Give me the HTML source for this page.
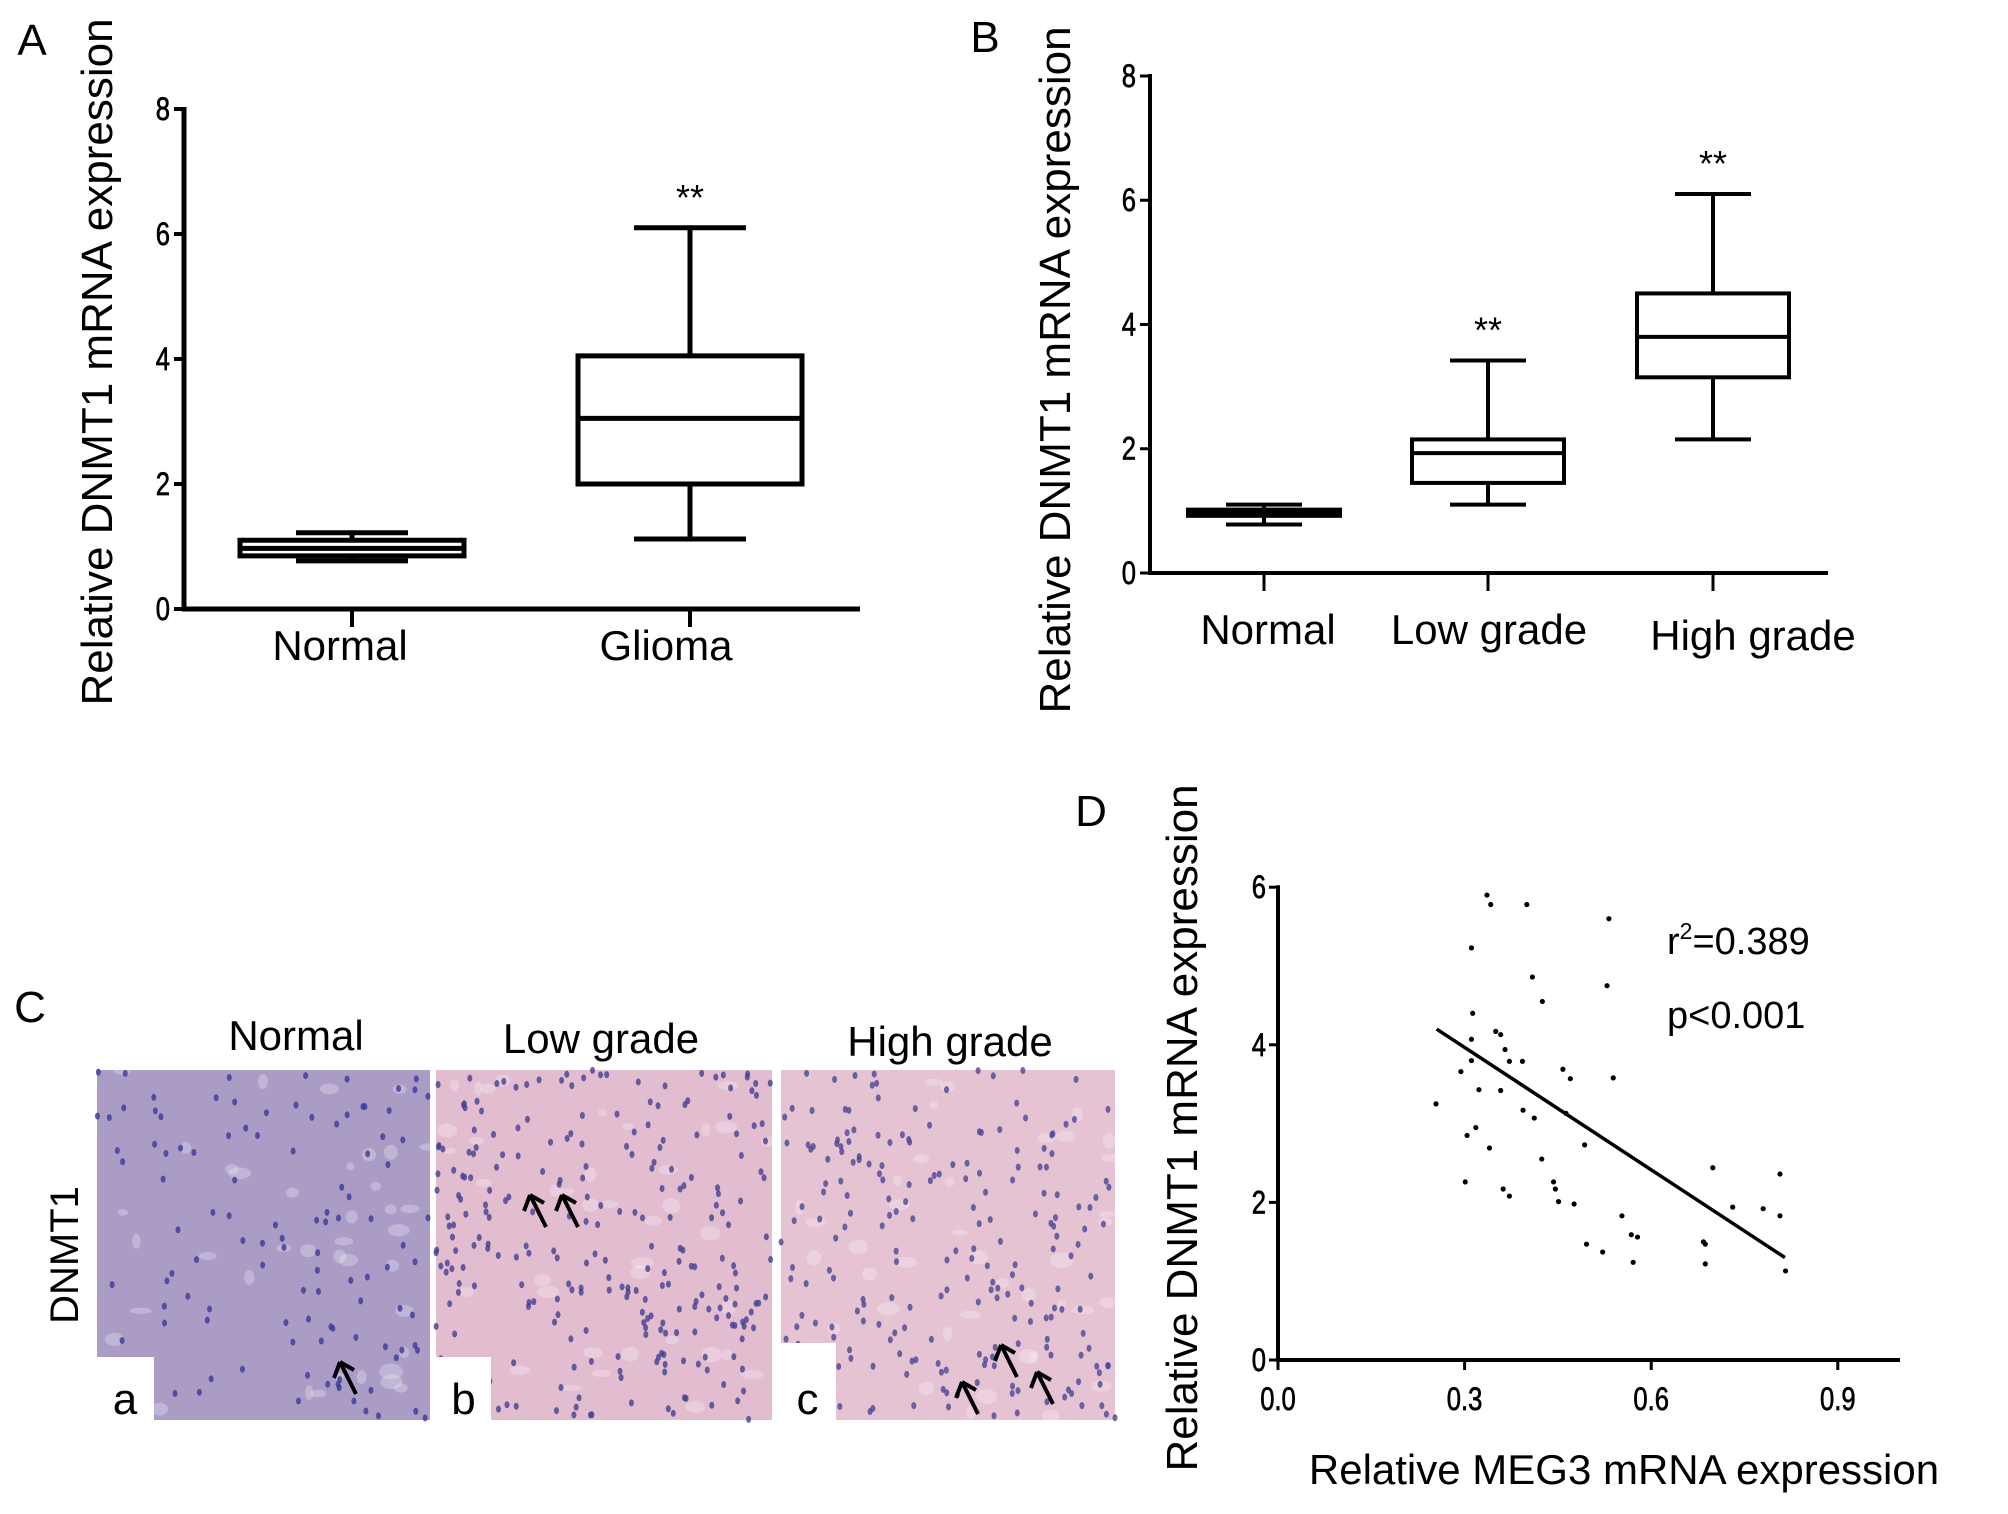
<!DOCTYPE html>
<html><head><meta charset="utf-8"><style>
html,body{margin:0;padding:0;background:#fff;}
svg{display:block;font-family:"Liberation Sans",sans-serif;}
</style></head><body>
<svg id="fig" width="2008" height="1514" viewBox="0 0 2008 1514" xmlns="http://www.w3.org/2000/svg">
<g id="gA"></g>
<g id="gB"></g>
<g id="gC"></g>
<g id="gD"></g>
</svg>
<script>
// ---- Panel A data ----
const catsA = ["Normal", "Glioma"];
const maxA = [1.22, 6.1];
const q3A = [1.1, 4.05];
const medA = [0.97, 3.05];
const q1A = [0.85, 2.0];
const minA = [0.77, 1.12];
const starsA = ["", "**"];
// ---- Panel B data ----
const catsB = ["Normal", "Low grade", "High grade"];
const maxB = [1.1, 3.42, 6.1];
const q3B = [1.02, 2.15, 4.5];
const medB = [0.97, 1.93, 3.8];
const q1B = [0.92, 1.45, 3.15];
const minB = [0.78, 1.1, 2.15];
const starsB = ["", "**", "**"];
const ticksAB = [0, 2, 4, 6, 8];
// ---- Panel D data ----
const meg3 = [0.336,0.342,0.40,0.532,0.311,0.409,0.529,0.425,0.313,0.350,0.358,0.311,0.365,0.311,0.372,0.393,0.294,0.458,0.470,0.539,0.254,0.323,0.358,0.394,0.412,0.463,0.318,0.304,0.493,0.340,0.424,0.699,0.807,0.301,0.443,0.446,0.362,0.372,0.451,0.476,0.731,0.780,0.807,0.553,0.568,0.578,0.496,0.684,0.687,0.522,0.571,0.687,0.816];
const dnmt = [5.9,5.78,5.78,5.6,5.23,4.86,4.75,4.55,4.4,4.17,4.13,4.07,3.94,3.8,3.79,3.79,3.66,3.69,3.57,3.58,3.25,3.43,3.42,3.17,3.07,3.13,2.95,2.85,2.73,2.69,2.55,2.44,2.36,2.26,2.26,2.17,2.17,2.08,2.01,1.98,1.94,1.92,1.83,1.83,1.59,1.56,1.47,1.50,1.47,1.37,1.24,1.22,1.13];
const fitX = [0.255, 0.815];
const fitY = [4.2, 1.3];
const ticksDX = [0.0, 0.3, 0.6, 0.9];
const ticksDY = [0, 2, 4, 6];

const NS = "http://www.w3.org/2000/svg";
function mk(parent, tag, attrs, text) {
  const e = document.createElementNS(NS, tag);
  for (const k in attrs) e.setAttribute(k, attrs[k]);
  if (text !== undefined) e.textContent = text;
  parent.appendChild(e);
  return e;
}
function line(p, x1, y1, x2, y2, w, name) {
  const e = mk(p, "line", {x1, y1, x2, y2, stroke: "#000", "stroke-width": w});
  
  
  return e;
}
function txt(p, x, y, s, size, anchor, name, extra) {
  const e = mk(p, "text", Object.assign({x, y, "font-size": size, "text-anchor": anchor || "middle", fill: "#000"}, extra || {}), s);
  
  
  return e;
}
const tickStyle = {transform: "scale(0.8,1)", stroke: "#000", "stroke-width": 0.7};

function boxPanel(g, cfg, cats, mx, q3, md, q1, mn, stars) {
  const y = v => cfg.y0 - v * (cfg.y0 - cfg.y8) / 8;
  const x = i => cfg.cx[i];
  line(g, cfg.ax, cfg.y8 - 2, cfg.ax, cfg.y0 + 2, cfg.lw, "y-axis");
  line(g, cfg.ax - 2, cfg.y0, cfg.xend, cfg.y0, cfg.lw, "x-axis");
  ticksAB.forEach(t => {
    line(g, cfg.ax - 10, y(t), cfg.ax, y(t), cfg.lw - 1, "y-tick");
    txt(g, (cfg.ax - 14) / 0.8, y(t) + 11, String(t), 32, "end", "y-tick-label", tickStyle);
  });
  cats.forEach((c, i) => {
    line(g, x(i), cfg.y0, x(i), cfg.y0 + 18, cfg.lw - 1, "x-tick");
    txt(g, cfg.labX[i], cfg.labY[i], c, cfg.labSize, "middle", "x-tick-label");
    const b = mk(g, "g", {});
    
    
    line(b, x(i), y(mx[i]), x(i), y(q3[i]), cfg.lw, "whisker-upper");
    line(b, x(i), y(q1[i]), x(i), y(mn[i]), cfg.lw, "whisker-lower");
    line(b, x(i) - cfg.cap, y(mx[i]), x(i) + cfg.cap, y(mx[i]), cfg.lw, "cap-upper");
    line(b, x(i) - cfg.cap, y(mn[i]), x(i) + cfg.cap, y(mn[i]), cfg.lw, "cap-lower");
    const r = mk(b, "rect", {x: x(i) - cfg.hw, y: y(q3[i]), width: 2 * cfg.hw, height: y(q1[i]) - y(q3[i]), fill: "#fff", stroke: "#000", "stroke-width": cfg.lw});
    
    
    line(b, x(i) - cfg.hw, y(md[i]), x(i) + cfg.hw, y(md[i]), cfg.lw, "median-line");
    if (stars[i]) txt(g, x(i), y(mx[i]) - 18, stars[i], 36, "middle", "significance-stars");
  });
  txt(g, 0, 0, "Relative DNMT1 mRNA expression", 44, "middle", "y-axis-title", {transform: `translate(${cfg.titleX},${cfg.titleY}) rotate(-90)`});
}

// Panel A
const gA = document.getElementById("gA");
txt(gA, 32, 55, "A", 44, "middle", "panel-label-a");
boxPanel(gA, {ax: 184, y0: 609, y8: 109, xend: 860, cx: [352, 690], labX: [340, 666], hw: 112, cap: 56, lw: 5, labY: [660, 660], labSize: 42, titleX: 112, titleY: 362}, catsA, maxA, q3A, medA, q1A, minA, starsA);

// Panel B
const gB = document.getElementById("gB");
txt(gB, 985, 52, "B", 44, "middle", "panel-label-b");
boxPanel(gB, {ax: 1150, y0: 573, y8: 76, xend: 1828, cx: [1264, 1488, 1713], labX: [1268, 1489, 1753], hw: 76, cap: 38, lw: 4, labY: [644, 644, 650], labSize: 42, titleX: 1070, titleY: 370}, catsB, maxB, q3B, medB, q1B, minB, starsB);

// Panel C
const gC = document.getElementById("gC");
txt(gC, 30, 1022, "C", 44, "middle", "panel-label-c");
txt(gC, 0, 0, "DNMT1", 40, "middle", "row-label-dnmt1", {transform: "translate(78,1255) rotate(-90)"});
const imgs = [
  {x: 97, w: 333, t: "Normal", tx: 296, base: "#ab9cc6", dot: "#3a3a9a", n: 110, lab: "a", bx: 96, bw: 58, by: 1357, ty: 1050, arrows: [[346, 1370]]},
  {x: 436, w: 336, t: "Low grade", tx: 601, base: "#e2bdd0", dot: "#45408f", n: 260, lab: "b", bx: 436, bw: 55, by: 1357, ty: 1053, arrows: [[536, 1203], [568, 1203]]},
  {x: 781, w: 334, t: "High grade", tx: 950, base: "#e5c3d3", dot: "#4b4695", n: 220, lab: "c", bx: 779, bw: 57, by: 1343, ty: 1056, arrows: [[1007, 1353], [968, 1390], [1043, 1380]]}
];
let seed = 7;
function rnd() { seed = (seed * 16807) % 2147483647; return seed / 2147483647; }
imgs.forEach(im => {
  const g = mk(gC, "g", {});
  
  
  txt(gC, im.tx, im.ty, im.t, 42, "middle", "column-title");
  const r = mk(g, "rect", {x: im.x, y: 1070, width: im.w, height: 350, fill: im.base});
  
  
  for (let k = 0; k < 40; k++) {
    const c = mk(g, "ellipse", {cx: im.x + rnd() * im.w, cy: 1070 + rnd() * 350, rx: 4 + rnd() * 8, ry: 3 + rnd() * 5, fill: "#fff", opacity: 0.25});
    
    
  }
  for (let k = 0; k < im.n; k++) {
    const d = mk(g, "ellipse", {cx: im.x + rnd() * im.w, cy: 1070 + rnd() * 350, rx: 2.5, ry: 3.5, fill: im.dot, opacity: 0.8});
    
    
  }
  const wb = mk(g, "rect", {x: im.bx, y: im.by, width: im.bw, height: 1420 - im.by, fill: "#fff"});
  
  
  txt(g, im.bx + im.bw / 2, 1414, im.lab, 44, "middle", "image-label-" + im.lab);
  im.arrows.forEach(a => {
    const p = mk(g, "path", {d: `M${a[0] + 10},${a[1] + 24} L${a[0] - 6},${a[1] - 8} M${a[0] - 6},${a[1] - 8} L${a[0] - 12},${a[1] + 8} M${a[0] - 6},${a[1] - 8} L${a[0] + 8},${a[1]}`, stroke: "#000", "stroke-width": 4, fill: "none"});
    
    
  });
});

// Panel D
const gD = document.getElementById("gD");
txt(gD, 1091, 826, "D", 44, "middle", "panel-label-d");
const dx0 = 1278, dy0 = 1360, dxu = 622, dyu = 78.8;
const X = v => dx0 + v * dxu;
const Y = v => dy0 - v * dyu;
line(gD, dx0, Y(6) - 2, dx0, dy0 + 2, 4, "y-axis");
line(gD, dx0 - 2, dy0, 1900, dy0, 4, "x-axis");
ticksDY.forEach(t => {
  line(gD, dx0 - 9, Y(t), dx0, Y(t), 3, "y-tick");
  txt(gD, (dx0 - 12) / 0.8, Y(t) + 11, String(t), 32, "end", "y-tick-label", tickStyle);
});
ticksDX.forEach(t => {
  line(gD, X(t), dy0, X(t), dy0 + 10, 3, "x-tick");
  txt(gD, X(t) / 0.8, 1410, t.toFixed(1), 32, "middle", "x-tick-label", tickStyle);
});
meg3.forEach((v, i) => {
  const c = mk(gD, "circle", {cx: X(v), cy: Y(dnmt[i]), r: 2.6, fill: "#000"});
  
  
});
line(gD, X(fitX[0]), Y(fitY[0]), X(fitX[1]), Y(fitY[1]), 3.5, "regression-line");
const r2 = txt(gD, 1667, 954, "r", 38, "start", "r-squared-label");
mk(r2, "tspan", {"font-size": 23, dy: -15}, "2");
mk(r2, "tspan", {dy: 15}, "=0.389");
txt(gD, 1667, 1028, "p<0.001", 38, "start", "p-value-label");
txt(gD, 1624, 1484, "Relative MEG3 mRNA expression", 42, "middle", "x-axis-title");
txt(gD, 0, 0, "Relative DNMT1 mRNA expression", 44, "middle", "y-axis-title", {transform: "translate(1197,1128) rotate(-90)"});
</script>
</body></html>
